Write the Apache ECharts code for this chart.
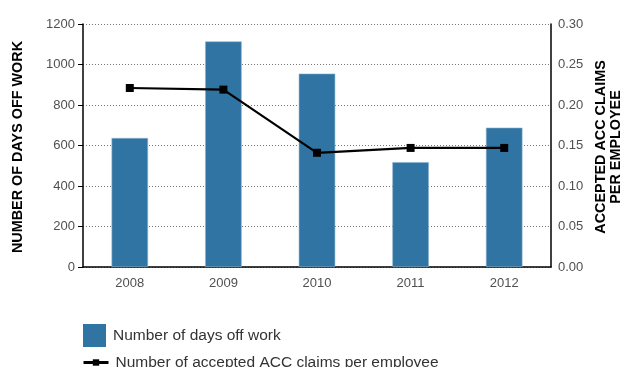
<!DOCTYPE html>
<html>
<head>
<meta charset="utf-8">
<script src="https://cdn.jsdelivr.net/npm/echarts@6/dist/echarts.min.js"></script>
<style>
  html, body { margin: 0; padding: 0; background: #fff; }
  #chart { width: 622px; height: 367px; }
</style>
</head>
<body>
<div id="chart"></div>
<script>
// Days off work and accepted ACC claims per employee, by year
const years = ['2008', '2009', '2010', '2011', '2012'];
const daysOffWork = [637, 1114, 955, 518, 688];
const claimsPerEmployee = [0.221, 0.219, 0.141, 0.147, 0.147];
const daysTicks = ['0', '200', '400', '600', '800', '1000', '1200'];
const claimsTicks = ['0.00', '0.05', '0.10', '0.15', '0.20', '0.25', '0.30'];

const FONT = '"Liberation Sans", Arial, Helvetica, sans-serif';
const LABEL_COLOR = '#505050';
const BAR_COLOR = '#2f74a2';

const chart = echarts.init(document.getElementById('chart'), null, { renderer: 'canvas' });

chart.setOption({
  animation: false,
  textStyle: { fontFamily: FONT },
  grid: { left: 83, right: 71, top: 24, bottom: 100, containLabel: false },
  xAxis: {
    type: 'category',
    data: years,
    axisLine: { lineStyle: { color: '#000', width: 1.5 } },
    axisTick: { show: false },
    axisLabel: { color: LABEL_COLOR, fontSize: 13, margin: 10, fontFamily: FONT }
  },
  yAxis: [
    {
      type: 'value',
      min: 0,
      max: 1200,
      interval: 200,
      axisLine: { show: true, lineStyle: { color: '#000', width: 1.5 } },
      axisTick: { show: true, length: 5, lineStyle: { color: '#000' } },
      axisLabel: {
        color: LABEL_COLOR, fontSize: 13, margin: 8, fontFamily: FONT,
        formatter: (v) => daysTicks[Math.round(v / 200)]
      },
      splitLine: { show: true, lineStyle: { color: '#777', type: [1, 2], width: 1 } }
    },
    {
      type: 'value',
      min: 0,
      max: 0.3,
      interval: 0.05,
      position: 'right',
      axisLine: { show: true, lineStyle: { color: '#000', width: 1.5 } },
      axisTick: { show: false },
      axisLabel: {
        color: LABEL_COLOR, fontSize: 13, margin: 7, fontFamily: FONT,
        formatter: (v) => claimsTicks[Math.round(v / 0.05)]
      },
      splitLine: { show: false }
    }
  ],
  legend: [
    {
      data: [{ name: 'Number of days off work', icon: 'rect' }],
      left: 83,
      top: 324,
      padding: 0,
      itemWidth: 23,
      itemHeight: 23,
      itemGap: 0,
      itemStyle: { borderWidth: 0 },
      textStyle: { color: '#333', fontSize: 15.5, fontFamily: FONT, padding: [0, 0, 0, 2] },
      selectedMode: false
    },
    {
      data: ['Number of accepted ACC claims per employee'],
      left: 82,
      top: 354.5,
      padding: 0,
      itemWidth: 25,
      itemHeight: 8,
      lineStyle: { width: 3 },
      textStyle: { color: '#333', fontSize: 15.5, fontFamily: FONT, padding: [0, 0, 0, 2] },
      selectedMode: false
    }
  ],
  series: [
    {
      name: 'Number of days off work',
      type: 'bar',
      yAxisIndex: 0,
      data: daysOffWork,
      barWidth: '39%',
      itemStyle: { color: BAR_COLOR, borderColor: '#8fb3cc', borderWidth: 0.6 }
    },
    {
      name: 'Number of accepted ACC claims per employee',
      type: 'line',
      yAxisIndex: 1,
      data: claimsPerEmployee,
      symbol: 'rect',
      symbolSize: 8,
      lineStyle: { color: '#000', width: 2.2 },
      itemStyle: { color: '#000' }
    }
  ],
  graphic: [
    {
      type: 'text',
      x: 18,
      y: 147,
      rotation: Math.PI / 2,
      style: {
        text: 'NUMBER OF DAYS OFF WORK',
        font: 'bold 14.4px ' + FONT,
        fill: '#000',
        align: 'center',
        verticalAlign: 'middle'
      }
    },
    {
      type: 'text',
      x: 609,
      y: 147,
      rotation: Math.PI / 2,
      style: {
        text: 'ACCEPTED ACC CLAIMS\nPER EMPLOYEE',
        font: 'bold 14.4px ' + FONT,
        fill: '#000',
        align: 'center',
        verticalAlign: 'middle',
        lineHeight: 15
      }
    }
  ]
});
</script>
</body>
</html>
